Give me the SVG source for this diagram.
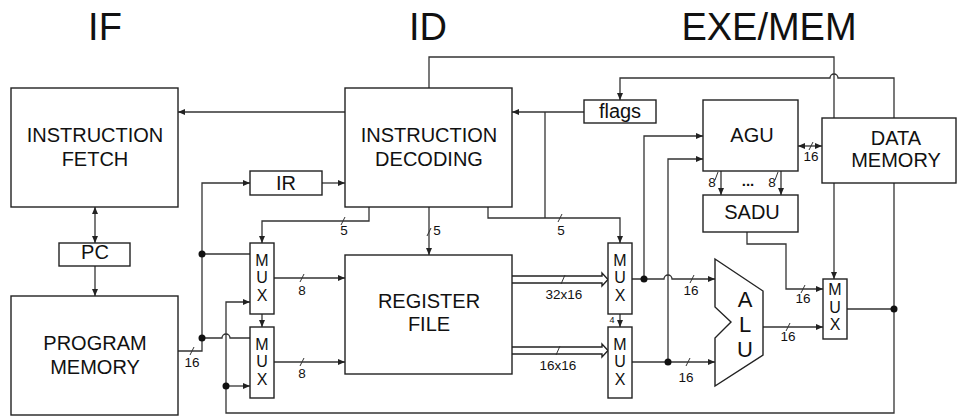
<svg xmlns="http://www.w3.org/2000/svg" width="957" height="417" viewBox="0 0 957 417">
<defs>
<marker id="ah" markerUnits="userSpaceOnUse" markerWidth="8" markerHeight="6" refX="7" refY="3" orient="auto-start-reverse"><path d="M0,0 L7,3 L0,6 z" fill="#222"/></marker>
<style>
.b{fill:#fff;stroke:#222;stroke-width:1.4}
.w{fill:none;stroke:#333;stroke-width:1.3}
.a{marker-end:url(#ah)}
.d{marker-start:url(#ah);marker-end:url(#ah)}
.s{stroke:#333;stroke-width:1}
text{font-family:"Liberation Sans",Arial,sans-serif;fill:#111;text-anchor:middle}
.t{font-size:38px}
.n{font-size:20px}
.u{font-size:22px}
.m{font-size:16px}
.l{font-size:13.5px}
.dot{fill:#111}
</style>
</defs>
<g id="titles">
<text class="t" x="105" y="40">IF</text>
<text class="t" x="428" y="40">ID</text>
<text class="t" x="769" y="40">EXE/MEM</text>
</g>
<g id="connectors">
<path class="w a" d="M345,112 H178"/>
<path class="w d" d="M95,207 V243"/>
<path class="w a" d="M95,266 V296"/>
<path class="w a" d="M178,351 H202 V183 H250"/>
<path class="w" d="M202,338 H222 A4,4 0 0 1 230,338 H250"/>
<path class="w" d="M202,254 H250"/>
<path class="w a" d="M322,183 H345"/>
<path class="w a" d="M369,207 V221 H262 V243"/>
<path class="w a" d="M429,207 V255"/>
<path class="w a" d="M488,207 V218 H620 V243"/>
<path class="w a" d="M584,112 H512"/>
<path class="w" d="M545,112 V218"/>
<path class="w" d="M429,88 V57 H834 V118"/>
<path class="w a" d="M894,118 V78 H838 A4,4 0 0 0 830,78 H620 V100"/>
<path class="w a" d="M834,183 V279"/>
<path class="w a" d="M894,183 V413 H226 V302 H250"/>
<path class="w a" d="M226,386 H250"/>
<path class="w" d="M847,309 H894"/>
<path class="w a" d="M262,314 V327"/>
<path class="w a" d="M274,278 H345"/>
<path class="w a" d="M274,362 H345"/>
<path class="b" d="M512,276 H602 V273 L608,279.5 L602,286 V283 H512"/>
<path class="b" d="M512,347 H602 V344 L608,350.5 L602,357 V354 H512"/>
<path class="w a" d="M620,314 V327"/>
<path class="w a" d="M632,279 H664 A4,4 0 0 1 672,279 H715"/>
<path class="w a" d="M644,279 V136 H703"/>
<path class="w a" d="M632,362 H715"/>
<path class="w a" d="M668,362 V159 H703"/>
<path class="w d" d="M798,146 H822"/>
<path class="w a" d="M721,171 V195"/>
<path class="w a" d="M781,171 V195"/>
<path class="w a" d="M747,232 V244 H786 V289 H823"/>
<path class="w a" d="M763,327 H823"/>
<circle class="dot" cx="202" cy="338" r="3.5"/>
<circle class="dot" cx="202" cy="254" r="3.5"/>
<circle class="dot" cx="226" cy="386" r="3.5"/>
<circle class="dot" cx="894" cy="309" r="3.5"/>
<circle class="dot" cx="644" cy="279" r="3.5"/>
<circle class="dot" cx="668" cy="362" r="3.5"/>
<path class="s" d="M190,355 L194,347 M300,282 L304,274 M300,366 L304,358 M341,225 L345,217 M427,236 L431,228 M558,222 L562,214 M561,284 L565,275 M556,355 L560,346 M690,283 L694,275 M686,366 L690,358 M809,150 L813,142 M715,180 L718,172 M775,180 L778,172 M801,293 L805,285 M786,331 L790,323"/>
<text class="l" x="192" y="367">16</text>
<text class="l" x="302" y="295">8</text>
<text class="l" x="302" y="378">8</text>
<text class="l" x="344" y="235">5</text>
<text class="l" x="437" y="235">5</text>
<text class="l" x="561" y="235">5</text>
<text class="l" x="564" y="299">32x16</text>
<text class="l" x="558" y="370">16x16</text>
<text style="font-size:9px" x="612" y="323">4</text>
<text class="l" x="691" y="295">16</text>
<text class="l" x="686" y="382">16</text>
<text class="l" x="811" y="161">16</text>
<text class="l" x="712" y="187">8</text>
<text class="l" x="772" y="187">8</text>
<text x="748" y="186" style="font-weight:bold;font-size:15px">...</text>
<text class="l" x="803" y="303">16</text>
<text class="l" x="788" y="341">16</text>
</g>
<g id="if"><rect class="b" x="11" y="88" width="167" height="119"/><text class="n" x="95" y="142">INSTRUCTION</text><text class="n" x="95" y="166">FETCH</text></g>
<g id="pc"><rect class="b" x="59" y="243" width="71" height="23"/><text class="n" x="95" y="259">PC</text></g>
<g id="pm"><rect class="b" x="11" y="296" width="167" height="119"/><text class="n" x="95" y="350">PROGRAM</text><text class="n" x="95" y="374">MEMORY</text></g>
<g id="ir"><rect class="b" x="250" y="171" width="72" height="24"/><text class="n" x="286" y="190">IR</text></g>
<g id="id"><rect class="b" x="345" y="88" width="167" height="119"/><text class="n" x="429" y="142">INSTRUCTION</text><text class="n" x="429" y="166">DECODING</text></g>
<g id="rf"><rect class="b" x="345" y="255" width="167" height="119"/><text class="n" x="429" y="308">REGISTER</text><text class="n" x="429" y="331">FILE</text></g>
<g id="flags"><rect class="b" x="584" y="100" width="72" height="23"/><text class="n" x="620" y="118">flags</text></g>
<g id="mux1"><rect class="b" x="250" y="243" width="24" height="71"/><text class="m" x="262" y="266">M</text><text class="m" x="262" y="283">U</text><text class="m" x="262" y="301">X</text></g>
<g id="mux2"><rect class="b" x="250" y="327" width="24" height="71"/><text class="m" x="262" y="350">M</text><text class="m" x="262" y="367">U</text><text class="m" x="262" y="385">X</text></g>
<g id="mux3"><rect class="b" x="608" y="243" width="24" height="71"/><text class="m" x="620" y="266">M</text><text class="m" x="620" y="283">U</text><text class="m" x="620" y="301">X</text></g>
<g id="mux4"><rect class="b" x="608" y="327" width="24" height="71"/><text class="m" x="620" y="350">M</text><text class="m" x="620" y="367">U</text><text class="m" x="620" y="385">X</text></g>
<g id="mux5"><rect class="b" x="823" y="279" width="24" height="60"/><text class="m" x="835" y="295">M</text><text class="m" x="835" y="313">U</text><text class="m" x="835" y="330">X</text></g>
<g id="agu"><rect class="b" x="703" y="100" width="95" height="71"/><text class="n" x="752" y="142">AGU</text></g>
<g id="sadu"><rect class="b" x="703" y="195" width="95" height="37"/><text class="n" x="752" y="219">SADU</text></g>
<g id="dm"><rect class="b" x="822" y="118" width="134" height="65"/><text class="n" x="896" y="145">DATA</text><text class="n" x="896" y="167">MEMORY</text></g>
<g id="alu"><path class="b" d="M715,259 L763,291 V355 L715,386 V338 L731,322 L715,307 Z"/><text class="u" x="745" y="307">A</text><text class="u" x="745" y="332">L</text><text class="u" x="745" y="357">U</text></g>
</svg>
